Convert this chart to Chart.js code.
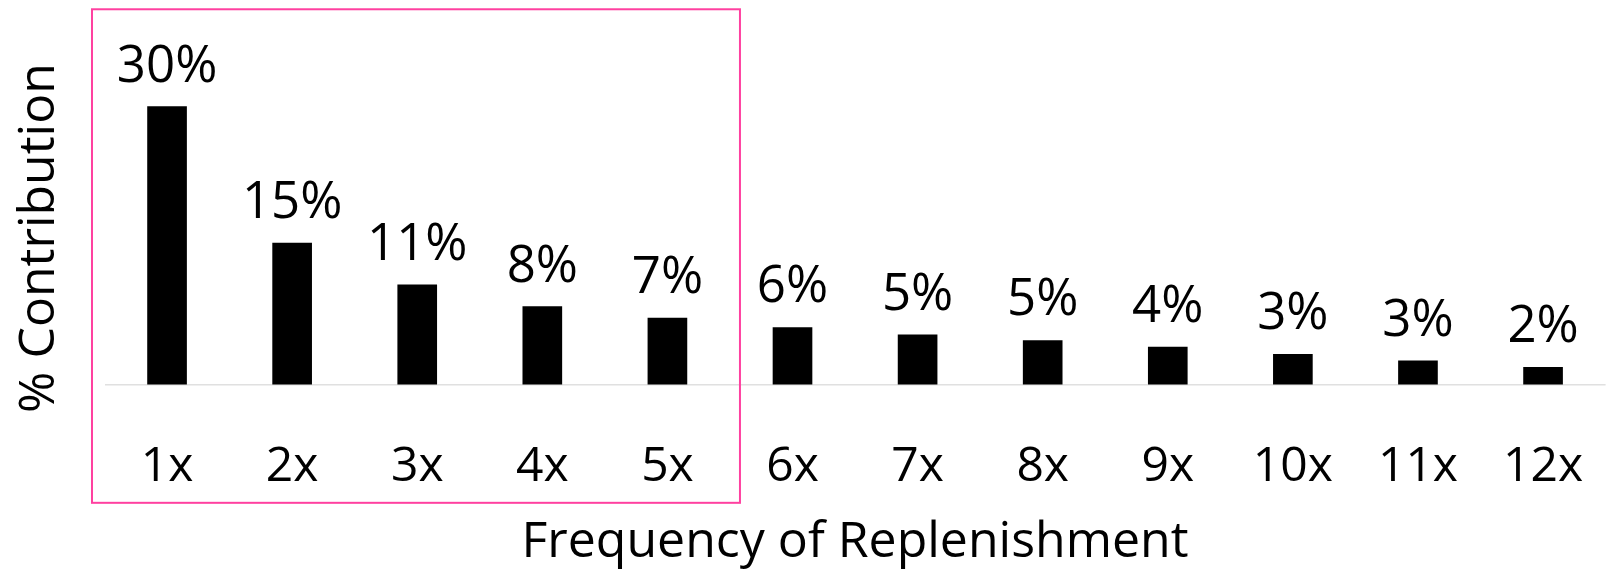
<!DOCTYPE html>
<html lang="en">
<head>
  <meta charset="utf-8">
  <title>Frequency of Replenishment</title>
  <script src="https://cdn.jsdelivr.net/npm/chart.js@4/dist/chart.umd.min.js"></script>
  <style>
    html, body { margin: 0; padding: 0; background: #fff; }
  </style>
</head>
<body>
  <canvas id="chart" width="1613" height="577"></canvas>

  <script>
    const categories = ['1x', '2x', '3x', '4x', '5x', '6x', '7x', '8x', '9x', '10x', '11x', '12x'];
    const contribution = [30.0, 15.3, 10.8, 8.45, 7.2, 6.2, 5.4, 4.8, 4.1, 3.3, 2.6, 1.9];
    // first and last category inside the pink box
    const highlighted = ['1x', '5x'];

    Chart.defaults.font.family = "'Open Sans', sans-serif";
    Chart.defaults.color = '#000';

    // percentage labels above each bar
    const valueLabels = {
      id: 'valueLabels',
      afterDatasetsDraw(chart) {
        const ctx = chart.ctx;
        const meta = chart.getDatasetMeta(0);
        ctx.save();
        ctx.font = "51px 'Open Sans', sans-serif";
        ctx.fillStyle = '#000';
        ctx.textAlign = 'center';
        ctx.textBaseline = 'alphabetic';
        meta.data.forEach(function(bar, i) {
          ctx.fillText(Math.round(contribution[i]) + '%', bar.x, bar.y - 25);
        });
        ctx.restore();
      }
    };

    // pink frame around the highlighted group of categories
    const highlightBox = {
      id: 'highlightBox',
      afterDraw(chart) {
        const xs = chart.scales.x;
        const ys = chart.scales.y;
        const first = categories.indexOf(highlighted[0]);
        const last = categories.indexOf(highlighted[1]);
        const left = xs.getPixelForValue(first - 0.6);
        const right = xs.getPixelForValue(last + 0.58);
        const top = ys.getPixelForValue(40.5);
        const bottom = ys.getPixelForValue(-12.7);
        const ctx = chart.ctx;
        ctx.save();
        ctx.strokeStyle = '#ff40a0';
        ctx.lineWidth = 2;
        ctx.strokeRect(left, top, right - left, bottom - top);
        ctx.restore();
      }
    };

    let chart = new Chart('chart', {
      type: 'bar',
      data: {
        labels: categories,
        datasets: [{
          data: contribution,
          backgroundColor: '#000',
          borderWidth: 0,
          barThickness: 39,
          categoryPercentage: 1
        }]
      },
      options: {
        responsive: false,
        animation: false,
        layout: {
          padding: {top: 41, right: 7.4, bottom: 0, left: 0}
        },
        plugins: {
          legend: {display: false},
          tooltip: {enabled: false}
        },
        scales: {
          x: {
            grid: {display: false, drawTicks: false},
            border: {display: false},
            ticks: {
              font: {size: 48},
              padding: 4,
              autoSkip: false,
              maxRotation: 0
            },
            title: {
              display: true,
              text: 'Frequency of Replenishment',
              font: {size: 50},
              padding: {top: 0, bottom: 4.5}
            },
            afterFit: function(scale) {
              scale.height = 142;
            }
          },
          y: {
            min: -5.39,
            max: 37.08,
            grid: {
              drawTicks: false,
              color: '#e0e0e0',
              lineWidth: 1.5
            },
            border: {display: false},
            ticks: {display: false},
            afterBuildTicks: function(scale) {
              scale.ticks = [{value: 0}];
            },
            title: {
              display: true,
              text: '% Contribution',
              font: {size: 50},
              padding: {top: 9.5, bottom: 0}
            },
            afterFit: function(scale) {
              scale.width = 104.5;
            }
          }
        }
      },
      plugins: [valueLabels, highlightBox]
    });
  </script>
</body>
</html>
